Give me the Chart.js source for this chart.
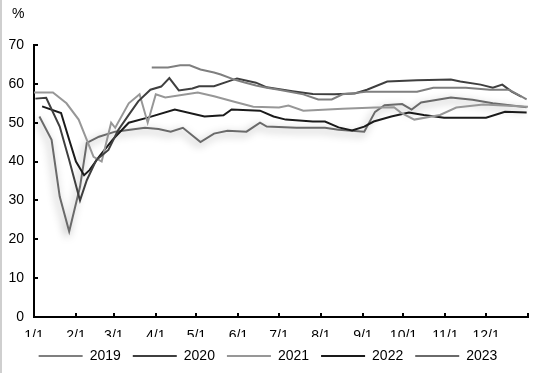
<!DOCTYPE html>
<html>
<head>
<meta charset="utf-8">
<script src="https://cdn.jsdelivr.net/npm/chart.js@4.4.0/dist/chart.umd.min.js"></script>
<style>
	body { margin: 0; background: #fff; }
	#wrap { position: relative; width: 543px; height: 373px; }
	#edge { position: absolute; left: 0; top: 0; width: 2px; height: 373px; background: #cfcfcf; }
</style>
</head>
<body>
<div id="wrap">
	<canvas id="chart" width="543" height="373"></canvas>
	<div id="edge"></div>
</div>
<script>
// x axis: day of year, tick at each month start
const monthDays = [0, 31, 59, 90, 120, 151, 181, 212, 243, 273, 304, 334, 365];
const monthLabels = ['1/1', '2/1', '3/1', '4/1', '5/1', '6/1', '7/1', '8/1', '9/1', '10/1', '11/1', '12/1', ''];
const yTicks = [0, 10, 20, 30, 40, 50, 60, 70];

const years = ['2019', '2020', '2021', '2022', '2023'];
const colors = ['#7f7f7f', '#3f3f3f', '#979797', '#1a1a1a', '#6a6a6a'];

// values (day of year, %)
const days2019 = [87, 99, 108, 115, 123, 133, 138, 148, 155, 164, 172, 181, 199, 210, 220, 228, 247, 266, 283, 295, 319, 337, 351, 364];
const vals2019 = [64.2, 64.2, 64.8, 64.8, 63.7, 62.9, 62.4, 61.1, 60.4, 59.6, 59, 58.5, 57.3, 56, 56, 57.3, 58, 58, 58, 59, 59, 58.5, 58.5, 56];

const days2020 = [1, 9, 19, 26, 34, 39, 46, 55, 62, 70, 77, 86, 94, 100, 107, 117, 122, 133, 150, 164, 172, 191, 206, 222, 237, 246, 261, 283, 308, 315, 330, 339, 346, 353, 360];
const vals2020 = [56.2, 56.4, 49, 40.4, 30, 35.2, 40.4, 43, 48, 52, 55.5, 58.5, 59.3, 61.5, 58.3, 58.8, 59.4, 59.4, 61.4, 60.3, 59.1, 58.1, 57.4, 57.3, 57.5, 58.5, 60.6, 60.9, 61.1, 60.6, 59.8, 59, 59.8, 58, 56.7];

const days2021 = [0, 14, 24, 33, 39, 44, 50, 57, 60, 70, 78, 84, 90, 97, 121, 133, 148, 162, 181, 188, 199, 228, 252, 266, 271, 281, 300, 312, 332, 365];
const vals2021 = [57.8, 57.8, 55, 50.8, 45.6, 41.2, 40, 50, 48.7, 55, 57.3, 50, 57.3, 56.5, 57.8, 56.8, 55.4, 54.1, 53.9, 54.4, 53.1, 53.6, 53.9, 54, 52.6, 50.8, 52, 53.9, 54.7, 54.1];

const days2022 = [6, 20, 26, 31, 37, 41, 48, 58, 70, 84, 104, 126, 140, 146, 167, 177, 186, 206, 215, 225, 235, 244, 251, 264, 277, 288, 303, 334, 348, 364];
const vals2022 = [54.2, 52.5, 45.6, 40, 36.5, 37.8, 41.2, 45.6, 50, 51.3, 53.4, 51.6, 51.9, 53.4, 53.1, 51.6, 50.8, 50.3, 50.3, 48.8, 48, 49, 50.3, 51.6, 52.6, 52, 51.3, 51.3, 52.8, 52.6];

const days2023 = [4, 13, 19, 26, 34, 39, 48, 60, 82, 92, 101, 110, 123, 133, 143, 157, 167, 172, 194, 215, 225, 244, 252, 259, 272, 279, 286, 308, 324, 339, 364];
const vals2023 = [51.6, 45.6, 31, 22, 33.5, 44.8, 46.4, 47.7, 48.7, 48.4, 47.7, 48.7, 45, 47.2, 47.9, 47.7, 50, 49, 48.7, 48.7, 48.2, 47.7, 52.8, 54.5, 54.8, 53.4, 55.2, 56.5, 55.9, 55, 54];

const allDays = [days2019, days2020, days2021, days2022, days2023];
const allVals = [vals2019, vals2020, vals2021, vals2022, vals2023];

const font = { family: "'Liberation Sans', Arial, sans-serif", size: 14 };

// soft drop shadow under the 2023 line
const shadowPlugin = {
	id: 'lineShadow',
	beforeDatasetDraw(chart, args) {
		if (args.index !== 4) return;
		const ctx = chart.ctx;
		ctx.save();
		ctx.shadowColor = 'rgba(0, 0, 0, 0.4)';
		ctx.shadowBlur = 8;
		ctx.shadowOffsetX = -2;
		ctx.shadowOffsetY = 3;
	},
	afterDatasetDraw(chart, args) {
		if (args.index === 4) chart.ctx.restore();
	}
};

// unit label above the y axis
const unitPlugin = {
	id: 'unitLabel',
	afterDraw(chart) {
		const ctx = chart.ctx;
		ctx.save();
		ctx.font = "14px 'Liberation Sans', Arial, sans-serif";
		ctx.fillStyle = '#000';
		ctx.textBaseline = 'middle';
		ctx.fillText('%', 12, 14);
		ctx.restore();
	}
};

const datasets = years.map((year, i) => ({
	label: year,
	data: allDays[i].map((d, j) => ({ x: d, y: allVals[i][j] })),
	borderColor: colors[i],
	backgroundColor: colors[i],
	borderWidth: 2,
	pointRadius: 0,
	tension: 0,
	fill: false
}));

new Chart(document.getElementById('chart'), {
	type: 'line',
	data: { datasets: datasets },
	plugins: [shadowPlugin, unitPlugin],
	options: {
		responsive: false,
		animation: false,
		layout: {
			padding: { top: 45, right: 7, bottom: 0, left: 0 }
		},
		scales: {
			x: {
				type: 'linear',
				min: 0,
				max: 365,
				afterBuildTicks: axis => {
					axis.ticks = monthDays.map(v => ({ value: v }));
				},
				afterFit: axis => { axis.height = 20; },
				ticks: {
					autoSkip: false,
					maxRotation: 0,
					padding: 15,
					color: '#000',
					font: font,
					callback: (value, index) => monthLabels[index]
				},
				grid: {
					display: true,
					drawOnChartArea: false,
					drawTicks: true,
					tickLength: -4,
					color: '#000',
					lineWidth: 2
				},
				border: { display: true, color: '#000', width: 2 }
			},
			y: {
				min: 0,
				max: 70,
				afterBuildTicks: axis => {
					axis.ticks = yTicks.map(v => ({ value: v }));
				},
				afterFit: axis => { axis.width = 34; },
				ticks: {
					padding: 14,
					color: '#000',
					font: font
				},
				grid: {
					display: true,
					drawOnChartArea: false,
					drawTicks: true,
					tickLength: -4,
					color: '#000',
					lineWidth: 2
				},
				border: { display: true, color: '#000', width: 2 }
			}
		},
		plugins: {
			tooltip: { enabled: false },
			legend: {
				display: true,
				position: 'bottom',
				labels: {
					color: '#000',
					font: font,
					usePointStyle: true,
					pointStyle: 'line',
					pointStyleWidth: 44,
					padding: 12
				}
			}
		}
	}
});
</script>
</body>
</html>
